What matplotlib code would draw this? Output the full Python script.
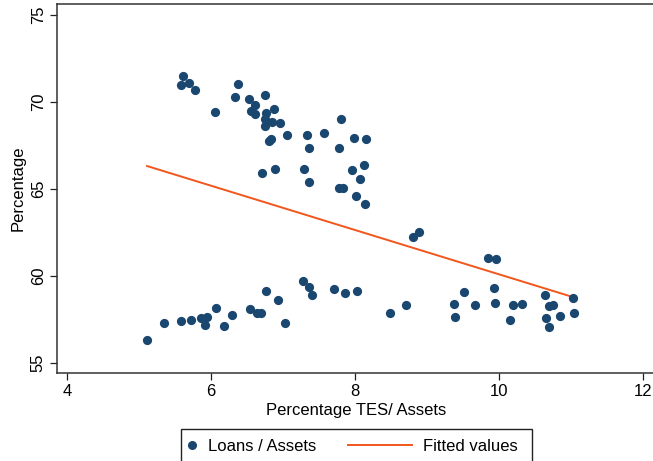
import matplotlib
matplotlib.use("Agg")
import matplotlib.pyplot as plt
from matplotlib.lines import Line2D
from matplotlib.patches import Rectangle
from matplotlib.legend_handler import HandlerLine2D

plt.rcParams['font.family'] = ['Liberation Sans', 'DejaVu Sans']

# Data
tes_assets = [
    5.611, 5.583, 5.694, 5.778, 6.056, 6.375, 6.333, 6.528, 6.611, 6.750,
    6.556, 6.611, 6.764, 6.875, 6.750, 6.847, 6.958, 6.750, 7.056, 6.833,
    6.806, 7.333, 7.361, 6.708, 6.889, 7.292, 7.361, 7.569, 7.806, 7.986,
    8.153, 7.778, 7.958, 8.125, 8.069, 7.778, 7.833, 8.014, 8.139, 8.806,
    8.889, 9.847, 9.958,
    5.111, 5.347, 5.583, 5.722, 5.861, 5.944, 5.917, 6.069, 6.181, 6.292,
    6.542, 6.639, 6.694, 6.764, 6.931, 7.028, 7.278, 7.361, 7.403, 7.708,
    7.861, 8.028, 8.486, 8.708, 9.375, 9.389, 9.514, 9.667, 9.931, 9.944,
    10.153, 10.194, 10.319, 10.639, 10.653, 10.694, 10.750, 10.694, 10.847,
    11.028, 11.042,
]
loans_assets = [
    71.49, 70.98, 71.09, 70.69, 69.43, 71.03, 70.29, 70.17, 69.83, 70.40,
    69.48, 69.31, 69.37, 69.60, 69.02, 68.85, 68.79, 68.62, 68.10, 67.87,
    67.76, 68.10, 67.36, 65.92, 66.15, 66.15, 65.40, 68.22, 69.02, 67.93,
    67.87, 67.36, 66.09, 66.38, 65.57, 65.06, 65.06, 64.60, 64.14, 62.24,
    62.53, 61.03, 60.98,
    56.32, 57.30, 57.41, 57.47, 57.59, 57.64, 57.18, 58.16, 57.13, 57.76,
    58.10, 57.87, 57.87, 59.14, 58.62, 57.30, 59.71, 59.37, 58.91, 59.25,
    59.02, 59.14, 57.87, 58.33, 58.39, 57.64, 59.08, 58.33, 59.31, 58.45,
    57.47, 58.33, 58.39, 58.91, 57.59, 58.28, 58.33, 57.07, 57.70,
    58.74, 57.87,
]
fit_x = [5.111, 11.042]
fit_y = [66.32, 58.77]

x_ticks = [4, 6, 8, 10, 12]
y_ticks = [55, 60, 65, 70, 75]

dot_color = '#1a476f'
line_color = '#f2561d'

W, H = 653, 461
fig = plt.figure(figsize=(W / 100, H / 100), dpi=100)
left_px, right_px, top_px, bottom_px = 57, 655, 4, 373
ax = fig.add_axes([left_px / W, 1 - bottom_px / H,
                   (right_px - left_px) / W, (bottom_px - top_px) / H])

ax.scatter(tes_assets, loans_assets, s=44, color=dot_color, linewidths=0, zorder=3)
ax.plot(fit_x, fit_y, color=line_color, lw=1.4, zorder=2)

ax.set_xlim(3.861, 12.167)
ax.set_ylim(54.425, 75.63)
ax.set_xticks(x_ticks)
ax.set_yticks(y_ticks)
ax.tick_params(axis='both', labelsize=12, length=5, width=0.9, color='#222222',
               direction='out', pad=3)
for lab in ax.get_yticklabels():
    lab.set_rotation(90)
    lab.set_va('center')

for side in ['left', 'bottom', 'top']:
    ax.spines[side].set_color('#333333')
    ax.spines[side].set_linewidth(1.1)
ax.spines['right'].set_visible(False)

ax.set_xlabel('Percentage TES/ Assets', fontsize=12, labelpad=3)
ax.set_ylabel('Percentage', fontsize=12, labelpad=4)

FS = 12
LINE_EM = 3.84


class LongLineHandler(HandlerLine2D):
    """Draw the line handle longer, extending left into the column gap."""
    def create_artists(self, legend, orig_handle, xdescent, ydescent,
                       width, height, fontsize, trans):
        L = LINE_EM * fontsize
        ln = Line2D([width - L, width], [height / 2 - ydescent] * 2,
                    color=orig_handle.get_color(), lw=orig_handle.get_linewidth())
        ln.set_transform(trans)
        return [ln]


h_dot = Line2D([], [], marker='o', ls='none', color=dot_color, markersize=5.5)
h_line = Line2D([], [], color=line_color, lw=1.4)
leg = fig.legend([h_dot, h_line], ['Loans / Assets', 'Fitted values'], ncol=2,
                 loc='upper left', bbox_to_anchor=(181 / W, 1 - 433 / H),
                 fontsize=FS, frameon=False, borderaxespad=0,
                 handlelength=0.6, handletextpad=0.65,
                 columnspacing=1.92 + LINE_EM - 0.6,
                 borderpad=0.36, handler_map={h_line: LongLineHandler()})

# legend frame (extends past the bottom edge, as in the reference)
fig.patches.append(Rectangle((181 / W, 1 - 470 / H), (532 - 181) / W, 41 / H,
                             transform=fig.transFigure, fill=False,
                             edgecolor='#222222', linewidth=1.0))

fig.savefig('out.png', dpi=100)
